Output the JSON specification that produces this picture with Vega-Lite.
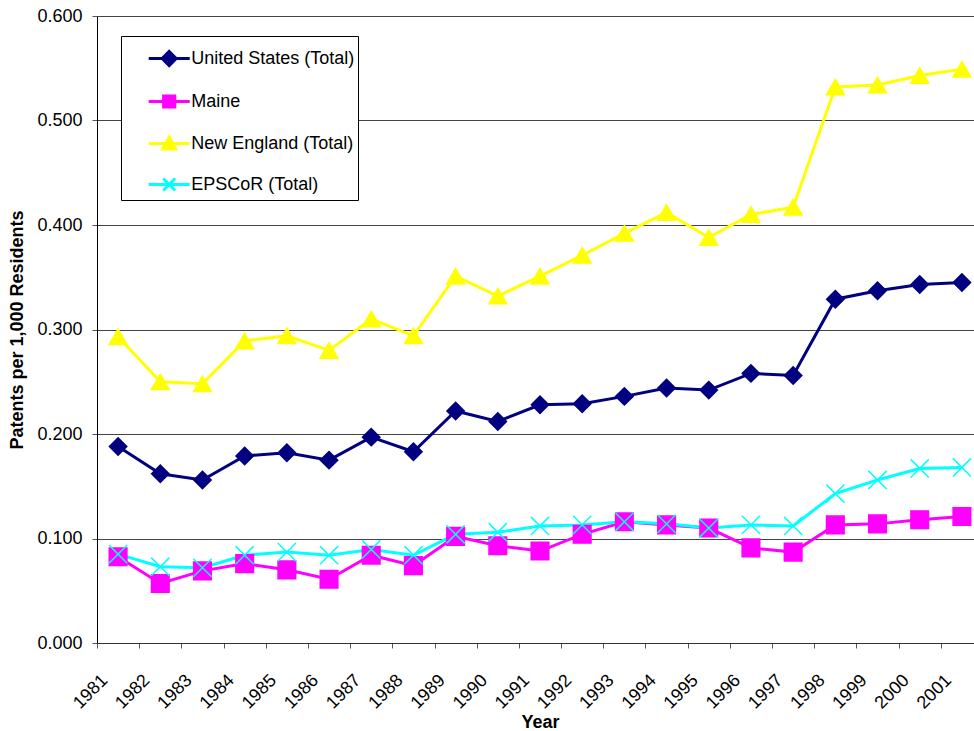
{
  "$schema": "https://vega.github.io/schema/vega-lite/v6.json",
  "width": 877,
  "height": 627,
  "autosize": {"type": "none"},
  "padding": {"left": 97, "top": 16, "right": 0, "bottom": 88},
  "background": "white",
  "config": {
    "view": {"stroke": null},
    "font": "Liberation Sans",
    "axis": {"labelFont": "Liberation Sans", "titleFont": "Liberation Sans", "labelFontSize": 18, "titleFontSize": 18, "titleFontWeight": "bold", "labelColor": "black", "titleColor": "black"}
  },
  "data": {"values": [
    {"series": "United States (Total)", "year": "1981", "value": 0.188},
    {"series": "United States (Total)", "year": "1982", "value": 0.162},
    {"series": "United States (Total)", "year": "1983", "value": 0.156},
    {"series": "United States (Total)", "year": "1984", "value": 0.179},
    {"series": "United States (Total)", "year": "1985", "value": 0.182},
    {"series": "United States (Total)", "year": "1986", "value": 0.175},
    {"series": "United States (Total)", "year": "1987", "value": 0.197},
    {"series": "United States (Total)", "year": "1988", "value": 0.183},
    {"series": "United States (Total)", "year": "1989", "value": 0.222},
    {"series": "United States (Total)", "year": "1990", "value": 0.212},
    {"series": "United States (Total)", "year": "1991", "value": 0.228},
    {"series": "United States (Total)", "year": "1992", "value": 0.229},
    {"series": "United States (Total)", "year": "1993", "value": 0.236},
    {"series": "United States (Total)", "year": "1994", "value": 0.244},
    {"series": "United States (Total)", "year": "1995", "value": 0.242},
    {"series": "United States (Total)", "year": "1996", "value": 0.258},
    {"series": "United States (Total)", "year": "1997", "value": 0.256},
    {"series": "United States (Total)", "year": "1998", "value": 0.329},
    {"series": "United States (Total)", "year": "1999", "value": 0.337},
    {"series": "United States (Total)", "year": "2000", "value": 0.343},
    {"series": "United States (Total)", "year": "2001", "value": 0.345},
    {"series": "Maine", "year": "1981", "value": 0.0825},
    {"series": "Maine", "year": "1982", "value": 0.057},
    {"series": "Maine", "year": "1983", "value": 0.069},
    {"series": "Maine", "year": "1984", "value": 0.076},
    {"series": "Maine", "year": "1985", "value": 0.070},
    {"series": "Maine", "year": "1986", "value": 0.061},
    {"series": "Maine", "year": "1987", "value": 0.084},
    {"series": "Maine", "year": "1988", "value": 0.074},
    {"series": "Maine", "year": "1989", "value": 0.102},
    {"series": "Maine", "year": "1990", "value": 0.093},
    {"series": "Maine", "year": "1991", "value": 0.088},
    {"series": "Maine", "year": "1992", "value": 0.104},
    {"series": "Maine", "year": "1993", "value": 0.116},
    {"series": "Maine", "year": "1994", "value": 0.113},
    {"series": "Maine", "year": "1995", "value": 0.110},
    {"series": "Maine", "year": "1996", "value": 0.091},
    {"series": "Maine", "year": "1997", "value": 0.087},
    {"series": "Maine", "year": "1998", "value": 0.113},
    {"series": "Maine", "year": "1999", "value": 0.114},
    {"series": "Maine", "year": "2000", "value": 0.118},
    {"series": "Maine", "year": "2001", "value": 0.121},
    {"series": "New England (Total)", "year": "1981", "value": 0.293},
    {"series": "New England (Total)", "year": "1982", "value": 0.250},
    {"series": "New England (Total)", "year": "1983", "value": 0.248},
    {"series": "New England (Total)", "year": "1984", "value": 0.289},
    {"series": "New England (Total)", "year": "1985", "value": 0.294},
    {"series": "New England (Total)", "year": "1986", "value": 0.280},
    {"series": "New England (Total)", "year": "1987", "value": 0.310},
    {"series": "New England (Total)", "year": "1988", "value": 0.294},
    {"series": "New England (Total)", "year": "1989", "value": 0.351},
    {"series": "New England (Total)", "year": "1990", "value": 0.332},
    {"series": "New England (Total)", "year": "1991", "value": 0.351},
    {"series": "New England (Total)", "year": "1992", "value": 0.371},
    {"series": "New England (Total)", "year": "1993", "value": 0.392},
    {"series": "New England (Total)", "year": "1994", "value": 0.412},
    {"series": "New England (Total)", "year": "1995", "value": 0.388},
    {"series": "New England (Total)", "year": "1996", "value": 0.410},
    {"series": "New England (Total)", "year": "1997", "value": 0.417},
    {"series": "New England (Total)", "year": "1998", "value": 0.532},
    {"series": "New England (Total)", "year": "1999", "value": 0.534},
    {"series": "New England (Total)", "year": "2000", "value": 0.543},
    {"series": "New England (Total)", "year": "2001", "value": 0.549},
    {"series": "EPSCoR (Total)", "year": "1981", "value": 0.085},
    {"series": "EPSCoR (Total)", "year": "1982", "value": 0.073},
    {"series": "EPSCoR (Total)", "year": "1983", "value": 0.072},
    {"series": "EPSCoR (Total)", "year": "1984", "value": 0.084},
    {"series": "EPSCoR (Total)", "year": "1985", "value": 0.087},
    {"series": "EPSCoR (Total)", "year": "1986", "value": 0.084},
    {"series": "EPSCoR (Total)", "year": "1987", "value": 0.0895},
    {"series": "EPSCoR (Total)", "year": "1988", "value": 0.084},
    {"series": "EPSCoR (Total)", "year": "1989", "value": 0.104},
    {"series": "EPSCoR (Total)", "year": "1990", "value": 0.106},
    {"series": "EPSCoR (Total)", "year": "1991", "value": 0.112},
    {"series": "EPSCoR (Total)", "year": "1992", "value": 0.113},
    {"series": "EPSCoR (Total)", "year": "1993", "value": 0.116},
    {"series": "EPSCoR (Total)", "year": "1994", "value": 0.114},
    {"series": "EPSCoR (Total)", "year": "1995", "value": 0.110},
    {"series": "EPSCoR (Total)", "year": "1996", "value": 0.113},
    {"series": "EPSCoR (Total)", "year": "1997", "value": 0.112},
    {"series": "EPSCoR (Total)", "year": "1998", "value": 0.143},
    {"series": "EPSCoR (Total)", "year": "1999", "value": 0.156},
    {"series": "EPSCoR (Total)", "year": "2000", "value": 0.167},
    {"series": "EPSCoR (Total)", "year": "2001", "value": 0.168}
  ]},
  "encoding": {
    "x": {
      "field": "year", "type": "ordinal", "bandPosition": 0.5,
      "scale": {"type": "band", "paddingInner": 0, "paddingOuter": 0, "range": [0, 886]},
      "axis": {"title": "Year", "labelAngle": -45, "tickBand": "extent", "tickSize": 5, "tickColor": "#555555", "domainColor": "#333333", "grid": false, "labelPadding": 23, "labelOffset": -20, "titleY": 70, "titleBaseline": "top"}
    },
    "y": {
      "field": "value", "type": "quantitative",
      "scale": {"domain": [0, 0.6], "nice": false, "zero": true},
      "axis": {"title": "Patents per 1,000 Residents", "values": [0, 0.1, 0.2, 0.3, 0.4, 0.5, 0.6], "format": ".3f", "grid": true, "gridColor": "#444444", "gridOpacity": 1, "gridWidth": 1, "domainColor": "black", "tickColor": "#555555", "tickSize": 5, "labelPadding": 10, "titlePadding": 10}
    },
    "color": {
      "field": "series", "type": "nominal",
      "scale": {"domain": ["United States (Total)", "Maine", "New England (Total)", "EPSCoR (Total)"], "range": ["#000080", "#FF00FF", "#FFFF00", "#00FFFF"]}
    }
  },
  "resolve": {"legend": {"color": "independent", "shape": "independent", "size": "independent", "stroke": "independent", "strokeWidth": "independent"}},
  "layer": [
    {
      "mark": {"type": "line"},
      "encoding": {
        "strokeWidth": {"field": "series", "type": "nominal", "scale": {"domain": ["United States (Total)", "Maine", "New England (Total)", "EPSCoR (Total)"], "range": [3, 3, 3, 4.5]}, "legend": null},
        "color": {
          "field": "series", "type": "nominal",
          "legend": {
            "orient": "none", "legendX": 24, "legendY": 20, "title": null,
            "strokeColor": "black", "fillColor": "white", "padding": 3,
            "labelFontSize": 18, "labelFont": "Liberation Sans", "labelColor": "black", "labelLimit": 400,
            "symbolSize": 1296, "symbolOffset": 25.7, "rowPadding": 10, "labelOffset": 2.5,
            "encode": {
              "entries": {"update": {"width": {"value": 257}, "fill": {"value": "transparent"}}},
              "symbols": {"update": {
                "shape": {"signal": "datum.value === 'United States (Total)' ? 'M-1.14,0L1.14,0M0,-0.39L0.39,0L0,0.39L-0.39,0Z' : datum.value === 'Maine' ? 'M-1.14,0L1.14,0M-0.31,-0.31L0.31,-0.31L0.31,0.31L-0.31,0.31Z' : datum.value === 'New England (Total)' ? 'M-1.14,0L1.14,0M0,-0.36L0.36,0.3L-0.36,0.3Z' : 'M-1.14,0L1.14,0M-0.33,-0.33L0.33,0.33M-0.33,0.33L0.33,-0.33'"},
                "size": {"value": 1296},
                "fill": {"signal": "scale('color', datum.value)"},
                "stroke": {"signal": "scale('color', datum.value)"},
                "strokeWidth": {"value": 3},
                "opacity": {"value": 1}
              }}
            }
          }
        }
      }
    },
    {
      "mark": {"type": "point", "filled": true, "opacity": 1, "strokeWidth": 1.5},
      "encoding": {
        "shape": {"field": "series", "type": "nominal", "scale": {"domain": ["United States (Total)", "Maine", "New England (Total)", "EPSCoR (Total)"], "range": ["diamond", "square", "triangle-up", "M-1,-1L1,1M-1,1L1,-1"]}, "legend": null},
        "size": {"field": "series", "type": "nominal", "scale": {"domain": ["United States (Total)", "Maine", "New England (Total)", "EPSCoR (Total)"], "range": [300, 330, 330, 300]}, "legend": null},
        "stroke": {"field": "series", "type": "nominal", "scale": {"domain": ["United States (Total)", "Maine", "New England (Total)", "EPSCoR (Total)"], "range": ["#000080", "#FF00FF", "#FFFF00", "#00FFFF"]}, "legend": null},
        "color": {"field": "series", "type": "nominal", "legend": null}
      }
    }
  ]
}
